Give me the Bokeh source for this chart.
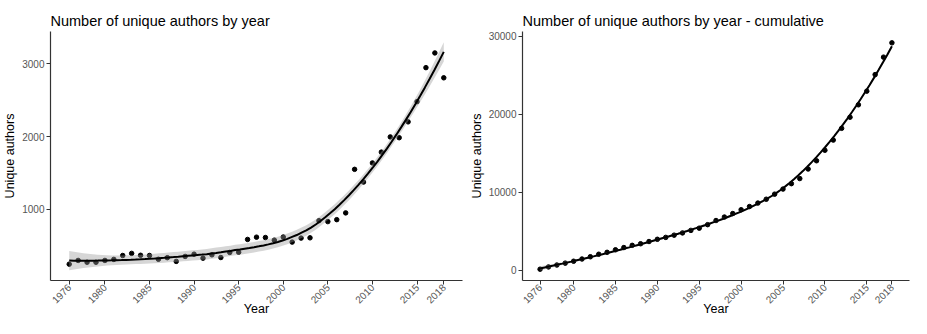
import math
import numpy as np
from bokeh.plotting import figure
from bokeh.layouts import row
from bokeh.models import Range1d, FixedTicker
from bokeh.embed import file_html
from bokeh.resources import INLINE

# ---------------- data ----------------
years = list(range(1976, 2019))
authors_by_year = [245, 296, 271, 271, 296, 310, 364, 393, 367, 364, 312, 334, 283, 351,
                   382, 327, 373, 336, 406, 409, 585, 616, 611, 575, 618, 548, 603, 607,
                   843, 830, 857, 950, 1549, 1374, 1637, 1786, 1995, 1984, 2202, 2480,
                   2948, 3150, 2808]
authors_cumulative = [120, 408, 652, 897, 1141, 1427, 1712, 2038, 2283, 2609, 2894, 3180,
                      3384, 3669, 3954, 4199, 4484, 4770, 5096, 5381, 5830, 6360, 6808,
                      7256, 7746, 8153, 8602, 9091, 9743, 10395, 11088, 11741, 12964,
                      14024, 15369, 16674, 18182, 19609, 21199, 22951, 25071, 27313, 29148]
x_ticks = [1976, 1980, 1985, 1990, 1995, 2000, 2005, 2010, 2015, 2018]
y_ticks_left = [1000, 2000, 3000]
y_ticks_right = [0, 10000, 20000, 30000]

FONT = "Liberation Sans"


# ---------------- loess (as ggplot2 geom_smooth default) ----------------
def loess_rows(x, x0s, span=0.75):
    x = np.asarray(x, float)
    n = len(x)
    q = int(math.floor(n * span))
    rows = []
    for x0 in x0s:
        d = np.abs(x - x0)
        h = np.sort(d)[q - 1]
        u = np.clip(d / h, 0, 1)
        w = (1 - u ** 3) ** 3
        X = np.column_stack([np.ones(n), x - x0, (x - x0) ** 2])
        XtW = X.T * w
        A = XtW @ X
        l = np.linalg.solve(A, XtW)[0]
        rows.append(l)
    return np.array(rows)


def loess_fit(x, y, npts=80):
    x = np.asarray(x, float)
    y = np.asarray(y, float)
    n = len(x)
    L = loess_rows(x, x)
    res = y - L @ y
    M = (np.eye(n) - L).T @ (np.eye(n) - L)
    d1 = np.trace(M)
    d2 = np.trace(M @ M)
    sigma = math.sqrt(np.sum(res ** 2) / d1)
    df = d1 ** 2 / d2
    z = 1.959964
    t = z + (z ** 3 + z) / (4 * df) + (5 * z ** 5 + 16 * z ** 3 + 3 * z) / (96 * df ** 2)
    xs = np.linspace(x.min(), x.max(), npts)
    Lg = loess_rows(x, xs)
    fit = Lg @ y
    se = sigma * np.sqrt(np.sum(Lg ** 2, axis=1))
    return xs, fit, fit - t * se, fit + t * se


def make_panel(title, yvals, yr, yticks, width, bl, br):
    p = figure(width=width, height=318, output_backend="svg", toolbar_location=None,
               x_range=Range1d(1973.9, 2020.1), y_range=Range1d(*yr),
               min_border_left=bl, min_border_right=br, min_border_top=31,
               min_border_bottom=0)
    p.title.text = title
    p.title.text_font = FONT
    p.title.text_font_size = "14.5px"
    p.title.text_font_style = "normal"
    p.title.text_color = "black"
    p.title.align = "left"
    p.title.standoff = 6
    p.outline_line_color = None
    p.grid.visible = False
    p.background_fill_color = "white"
    p.border_fill_color = "white"

    p.scatter(years, yvals, size=4.5, color="black")
    xs, fit, lo, hi = loess_fit(years, yvals)
    p.varea(x=xs, y1=lo, y2=hi, fill_color="#999999", fill_alpha=0.4)
    p.line(xs, fit, line_color="black", line_width=2)

    for ax in (p.xaxis[0], p.yaxis[0]):
        ax.axis_line_color = "#333333"
        ax.axis_line_width = 1.2
        ax.major_tick_line_color = "#333333"
        ax.major_tick_out = 4
        ax.major_tick_in = 0
        ax.minor_tick_line_color = None
        ax.major_label_text_font = FONT
        ax.major_label_text_font_size = "10px"
        ax.major_label_text_color = "#555555"
        ax.axis_label_text_font = FONT
        ax.axis_label_text_font_size = "12.5px"
        ax.axis_label_text_font_style = "normal"
        ax.axis_label_text_color = "black"
    p.xaxis.ticker = FixedTicker(ticks=x_ticks)
    p.xaxis.major_label_orientation = math.pi / 4
    p.xaxis.major_label_standoff = 1
    p.xaxis.axis_label = "Year"
    p.xaxis.axis_label_standoff = -8
    p.yaxis.ticker = FixedTicker(ticks=yticks)
    p.yaxis.major_label_standoff = 2
    p.yaxis.axis_label = "Unique authors"
    p.yaxis.axis_label_standoff = 2
    return p


p1 = make_panel("Number of unique authors by year", authors_by_year,
                (20, 3445), y_ticks_left, 466, 48, 4)
p2 = make_panel("Number of unique authors by year - cumulative", authors_cumulative,
                (-1330, 30600), y_ticks_right, 445, 53, 2)

layout = row(p1, p2)
open("out.html", "w").write(file_html(layout, INLINE))
